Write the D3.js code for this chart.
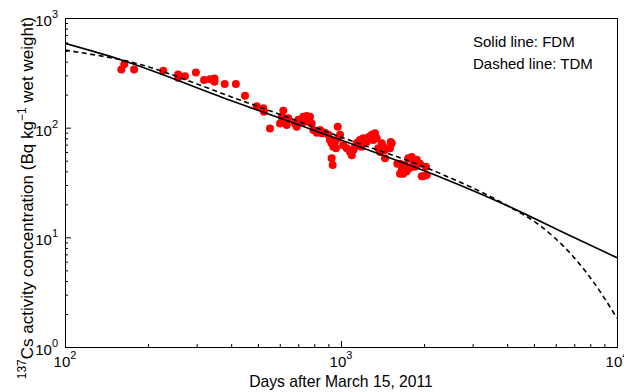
<!DOCTYPE html>
<html>
<head>
<meta charset="utf-8">
<script src="https://cdn.jsdelivr.net/npm/d3@7"></script>
<style>
  body { margin: 0; background: #fff; }
  text { font-family: Arial, "Liberation Sans", sans-serif; fill: #000; }
</style>
</head>
<body>
<div id="chart"></div>
<script>
const width = 624;
const height = 392;
const margin = {left: 65, right: 7, top: 18, bottom: 45};

// Measured data (days after March 15, 2011, Bq/kg)
const obsDays = [160, 164, 178, 227, 257, 257, 272, 298, 319, 335, 348, 348, 379, 416, 449,
  495, 523, 526, 553, 618, 610, 601, 627, 644, 636, 681, 691, 730, 751, 772, 741, 761, 783,
  794, 817, 851, 875, 900, 973, 912, 925, 938, 959, 978, 992, 951, 925, 933, 1019, 1049, 1078,
  1108, 1140, 1155, 1094, 1172, 1204, 1239, 1188, 1292, 1328, 1309, 1347, 1405, 1424, 1444,
  1444, 1365, 1385, 1514, 1505, 1636, 1659, 1681, 1705, 1753, 1804, 1828, 1881, 1854, 1933,
  1778, 1730, 1636, 2032, 1961, 2044, 1987, 1527, 1600, 700, 720, 840, 1120, 1260];
const obsConc = [340, 378, 340, 330, 306, 285, 295, 319, 272, 277, 281, 262, 250, 250, 195,
  157, 150, 140, 98.5, 143, 126, 109, 113, 122, 106, 109, 102, 126, 128, 126, 113, 117, 109,
  95, 90, 89, 90, 86, 102, 77, 72, 67, 65, 80, 86, 74, 52.5, 45.6, 69, 65, 60,
  62.5, 72, 74, 56, 77, 80, 74, 67, 86, 89, 77, 80, 72, 67, 62.5,
  52.5, 65, 60, 74, 65, 47, 41, 38, 46, 52.5, 54, 49, 51, 44, 47,
  43, 40, 38, 44, 36, 37, 36, 72, 47, 118, 112, 95, 66, 82];

// Model curves
const fdmDays = [100, 158, 396, 1000, 2284, 4027, 6928, 10000];
const fdmConc = [587, 419, 178, 77, 35.5, 19.3, 10.06, 6.52];
const tdmDays = [100, 123, 158, 438, 1000, 2284, 4027, 5260, 6946, 8204, 10000];
const tdmConc = [510, 469, 419, 176, 82, 38.3, 19.3, 12.8, 6.66, 3.94, 1.83];

const xMajor = [100, 1000, 10000];
const xExp = ["2", "3", "4"];
const yMajor = [1, 10, 100, 1000];
const yExp = ["0", "1", "2", "3"];

const legendLines = ["Solid line: FDM", "Dashed line: TDM"];

const x = d3.scaleLog().domain([100, 10000]).range([margin.left, width - margin.right]);
const y = d3.scaleLog().domain([1, 1000]).range([height - margin.bottom, margin.top]);

const svg = d3.select("#chart").append("svg")
    .attr("width", width)
    .attr("height", height);

svg.append("clipPath").attr("id", "plotClip")
  .append("rect")
    .attr("x", x.range()[0])
    .attr("y", y.range()[1])
    .attr("width", x.range()[1] - x.range()[0])
    .attr("height", y.range()[0] - y.range()[1]);

// minor tick values
function minors(lo, hi) {
    const out = [];
    for (let p = lo; p < hi; p *= 10) {
        for (let k = 2; k <= 9; k++) out.push(p * k);
    }
    return out;
}

const plotBottom = y.range()[0];
const plotLeft = x.range()[0];

// bottom axis
svg.append("g").attr("transform", `translate(0,${plotBottom})`)
    .call(d3.axisBottom(x).tickValues(minors(100, 10000)).tickSize(-3).tickFormat(""))
    .call(g => g.select(".domain").remove());
svg.append("g").attr("transform", `translate(0,${plotBottom})`)
    .call(d3.axisBottom(x).tickValues(xMajor).tickSize(-6).tickFormat(""))
    .call(g => g.select(".domain").remove());

// left axis
svg.append("g").attr("transform", `translate(${plotLeft},0)`)
    .call(d3.axisLeft(y).tickValues(minors(1, 1000)).tickSize(-3).tickFormat(""))
    .call(g => g.select(".domain").remove());
svg.append("g").attr("transform", `translate(${plotLeft},0)`)
    .call(d3.axisLeft(y).tickValues(yMajor).tickSize(-6).tickFormat(""))
    .call(g => g.select(".domain").remove());

// frame
svg.append("rect")
    .attr("x", x.range()[0] + 0.5)
    .attr("y", y.range()[1] + 0.5)
    .attr("width", x.range()[1] - x.range()[0])
    .attr("height", y.range()[0] - y.range()[1])
    .attr("fill", "none")
    .attr("stroke", "black");

// tick labels
const xl = svg.selectAll(".xlab").data(xMajor).enter().append("text")
    .attr("class", "xlab")
    .attr("x", d => x(d))
    .attr("y", plotBottom + 20)
    .attr("text-anchor", "middle")
    .style("font-size", "15px");
xl.append("tspan").text("10");
xl.append("tspan").attr("dy", -8).style("font-size", "11px").text((d, i) => xExp[i]);

const yl = svg.selectAll(".ylab").data(yMajor).enter().append("text")
    .attr("class", "ylab")
    .attr("x", plotLeft - 7)
    .attr("y", d => y(d) + 8)
    .attr("text-anchor", "end")
    .style("font-size", "15px");
yl.append("tspan").text("10");
yl.append("tspan").attr("dy", -8).style("font-size", "11px").text((d, i) => yExp[i]);

// axis titles
svg.append("text")
    .attr("x", x(1000))
    .attr("y", 387)
    .attr("text-anchor", "middle")
    .style("font-size", "15.7px")
    .text("Days after March 15, 2011");

const yt = svg.append("text")
    .attr("transform", "translate(33,198) rotate(-90)")
    .attr("text-anchor", "middle")
    .style("font-size", "17px");
yt.append("tspan").attr("dy", -7).style("font-size", "12px").text("137");
yt.append("tspan").attr("dy", 7).text("Cs activity concentration (Bq kg");
yt.append("tspan").attr("dy", -7).style("font-size", "12px").text("\u22121");
yt.append("tspan").attr("dy", 7).text(" wet weight)");

// data points
const plot = svg.append("g").attr("clip-path", "url(#plotClip)");
plot.selectAll("circle")
    .data(obsDays.map((d, i) => [d, obsConc[i]]))
    .enter()
    .append("circle")
    .attr("cx", d => x(d[0]))
    .attr("cy", d => y(d[1]))
    .attr("r", 4)
    .attr("fill", "#ff0000");

// model lines
const line = d3.line()
    .x(d => x(d[0]))
    .y(d => y(d[1]))
    .curve(d3.curveMonotoneX);

plot.append("path")
    .datum(fdmDays.map((d, i) => [d, fdmConc[i]]))
    .attr("d", line)
    .attr("fill", "none")
    .attr("stroke", "black")
    .attr("stroke-width", 1.6);

plot.append("path")
    .datum(tdmDays.map((d, i) => [d, tdmConc[i]]))
    .attr("d", line)
    .attr("fill", "none")
    .attr("stroke", "black")
    .attr("stroke-width", 1.6)
    .attr("stroke-dasharray", "5,3.5");

// legend text
svg.selectAll(".leg").data(legendLines).enter().append("text")
    .attr("class", "leg")
    .attr("x", 473)
    .attr("y", (d, i) => 47 + i * 22)
    .style("font-size", "15px")
    .text(d => d);
</script>
</body>
</html>
